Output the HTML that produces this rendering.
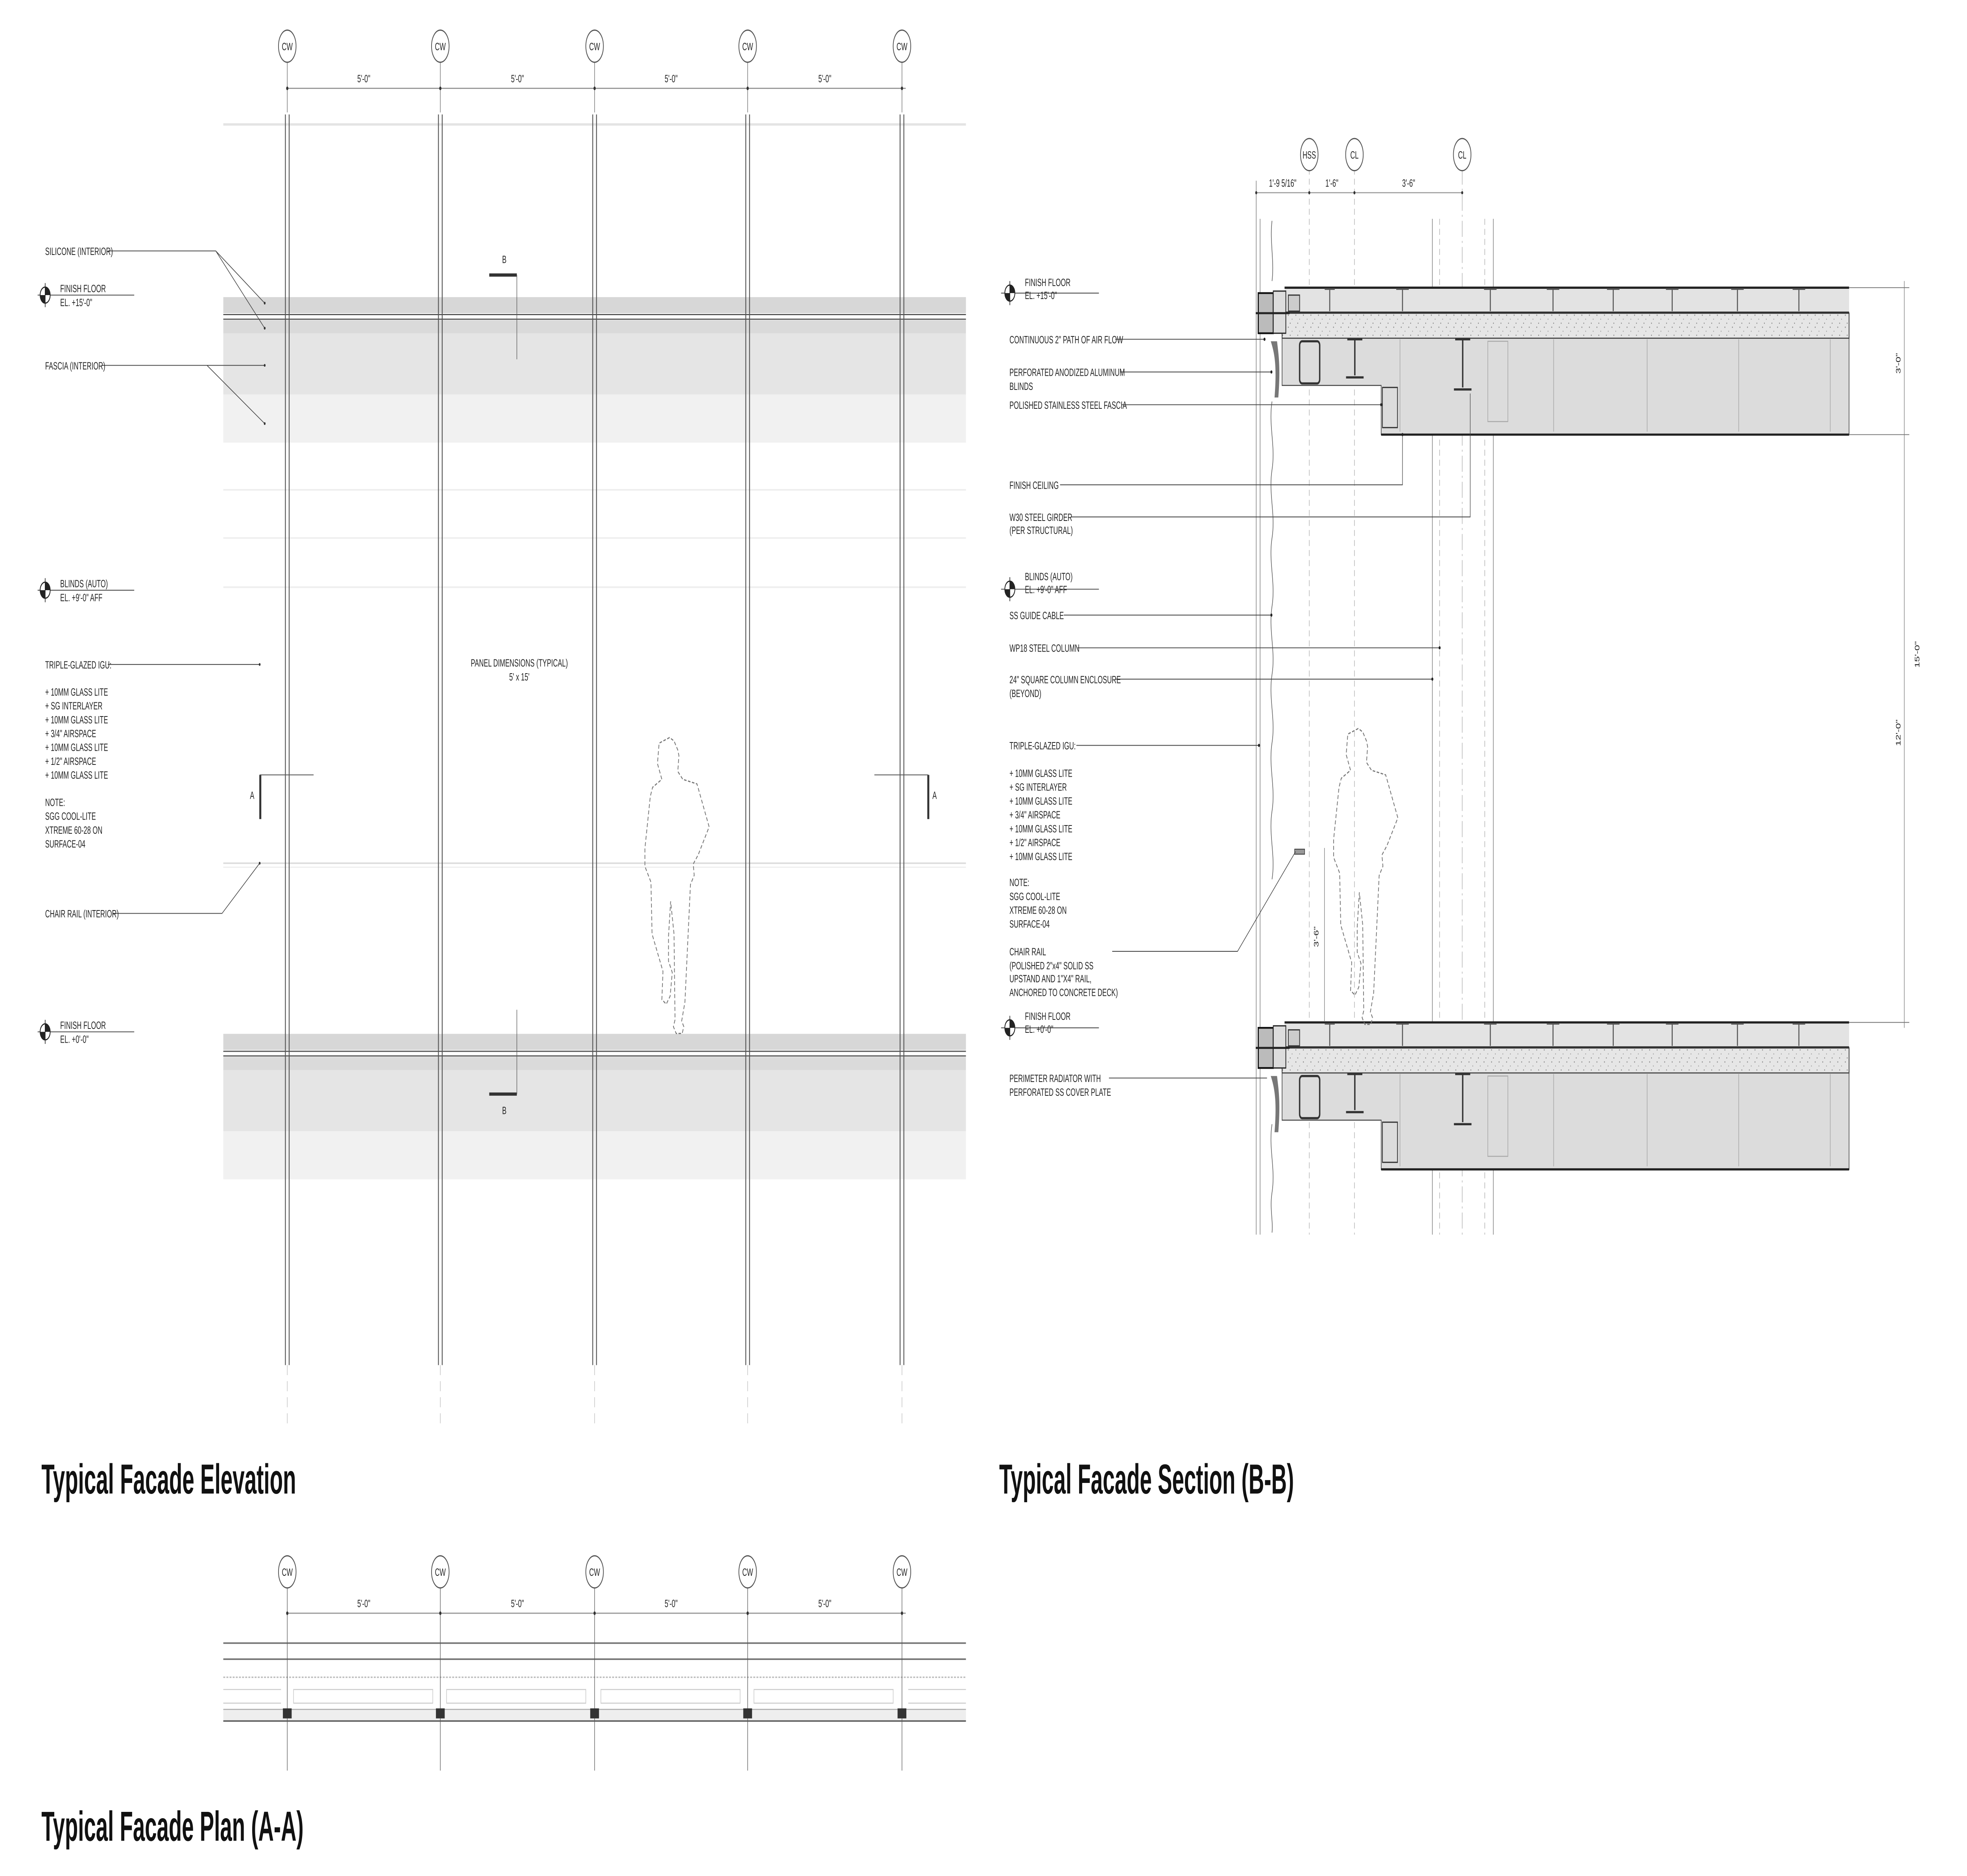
<!DOCTYPE html>
<html><head><meta charset="utf-8"><style>
html,body{margin:0;padding:0;background:#fff;width:100vw;height:100vh;overflow:hidden;}
svg{display:block;position:absolute;left:0;top:0;width:100vw;height:100vh;}
text{font-family:"Liberation Sans Narrow","Liberation Sans",sans-serif;fill:#222;}
.s{font-size:5.2px;}
.t{font-size:21px;font-weight:bold;fill:#111;}
</style></head><body>
<svg viewBox="0 0 1568 934.5" preserveAspectRatio="none" xmlns="http://www.w3.org/2000/svg">
<defs>
<g id="bub"><ellipse cx="0" cy="0" rx="7" ry="8" fill="#fff" stroke="#555" stroke-width="0.6"/></g>
<g id="ff"><circle cx="0" cy="0" r="4" fill="#fff" stroke="#222" stroke-width="0.6"/><path d="M0,-4 A4,4 0 0 1 4,0 L0,0Z M0,4 A4,4 0 0 1 -4,0 L0,0Z" fill="#222"/><line x1="0" y1="-6" x2="0" y2="6" stroke="#222" stroke-width="0.5"/></g>
<path id="person" d="M533.75,367.4 L525.4,370.2 L524.1,380.4 L527.6,388.2 L520.2,392.2 L518.4,396.7 L514.1,422.6 L514.1,431.6 L518.9,439.4 L519.8,465.3 L528.5,483.9 L527.6,497.9 L531.1,500.2 L534.2,496.2 L535.9,484.4 L532.9,478.8 L532.9,466.4 L534.6,449 L537.3,465.3 L538.1,508 L536.8,511.4 L539,514.8 L543.8,514.8 L545.1,511.4 L543.4,508.6 L546,499.1 L550.4,440.6 L553.4,436 L552.6,430.4 L556.5,425.9 L565.3,411.9 L555.6,390.5 L544.3,388.2 L540.3,384.3 L541.2,376.4 L540.3,373.6 L537.3,369.1 Z" fill="none" stroke="#777" stroke-width="0.6" stroke-dasharray="2,1.2"/>
<pattern id="conc" width="6" height="6" patternUnits="userSpaceOnUse"><rect width="6" height="6" fill="#e6e6e6"/><circle cx="1" cy="1" r="0.35" fill="#888"/><circle cx="4" cy="3" r="0.3" fill="#999"/><circle cx="2.5" cy="5" r="0.3" fill="#777"/></pattern>
<g id="slab">
<rect x="1024" y="143" width="450" height="13" fill="#e3e3e3"/>
<rect x="1022" y="156" width="452" height="12.5" fill="url(#conc)" stroke="#333" stroke-width="0.6"/>
<path d="M1022,168.5 L1474,168.5 L1474,216.5 L1101,216.5 L1101,192 L1022,192 Z" fill="#dcdcdc" stroke="#444" stroke-width="0.5"/>
<line x1="1024" y1="143.3" x2="1474" y2="143.3" stroke="#222" stroke-width="1.1"/>
<line x1="1101" y1="216.5" x2="1474" y2="216.5" stroke="#222" stroke-width="1.1"/>
<line x1="1024" y1="155.5" x2="1474" y2="155.5" stroke="#333" stroke-width="0.6"/>
<g stroke="#555" stroke-width="0.8" fill="none">
<path d="M1060,144 l0,11 M1056,144 l8,0 M1118,144 l0,11 M1113,144 l10,0 M1188,144 l0,11 M1183,144 l10,0 M1238,144 l0,11 M1233,144 l10,0 M1286,144 l0,11 M1281,144 l10,0 M1333,144 l0,11 M1328,144 l10,0 M1385,144 l0,11 M1380,144 l10,0 M1434,144 l0,11 M1429,144 l10,0"/>
</g>
<g stroke="#aaa" stroke-width="0.5"><line x1="1116" y1="169" x2="1116" y2="215"/><line x1="1238.5" y1="169" x2="1238.5" y2="215"/><line x1="1313" y1="169" x2="1313" y2="215"/><line x1="1386" y1="169" x2="1386" y2="215"/><line x1="1459" y1="169" x2="1459" y2="215"/><rect x="1186" y="170" width="16" height="40" fill="none"/></g>
<g fill="none" stroke="#333" stroke-width="1.1">
<rect x="1036" y="170" width="16" height="21" rx="2"/>
<path d="M1074,169 h12 M1080,169 v18 M1073,188 h14"/>
<path d="M1160,169 h12 M1166,169 v24 M1159,194 h14"/>
<rect x="1102" y="193" width="12" height="20" stroke-width="0.6"/>
</g>
<rect x="1003" y="146" width="12" height="20" fill="#bbb" stroke="#111" stroke-width="0.9"/>
<rect x="1015" y="145" width="10" height="21" fill="#ddd" stroke="#222" stroke-width="0.6"/>
<rect x="1027" y="147" width="9" height="8" fill="#ccc" stroke="#333" stroke-width="0.6"/>
<line x1="1001" y1="156" x2="1028" y2="156" stroke="#222" stroke-width="1"/>
<path d="M1013,170 C1016,176 1018,182 1016,198 L1019,198 C1021,182 1019,176 1018,170 Z" fill="#777"/>
</g>
</defs>

<!-- ========== ELEVATION ========== -->
<line x1="178" y1="62" x2="770" y2="62" stroke="#e4e4e4" stroke-width="1.2"/>
<rect x="178" y="148" width="592" height="8" fill="#d7d7d7"/>
<rect x="178" y="159.5" width="592" height="6.5" fill="#dadada"/>
<rect x="178" y="166" width="592" height="30.5" fill="#e5e5e5"/>
<rect x="178" y="196.5" width="592" height="24" fill="#f1f1f1"/>
<line x1="178" y1="156.7" x2="770" y2="156.7" stroke="#555" stroke-width="0.6"/>
<line x1="178" y1="159" x2="770" y2="159" stroke="#555" stroke-width="0.6"/>
<g stroke="#eee" stroke-width="0.8"><line x1="178" y1="244" x2="770" y2="244"/><line x1="178" y1="268" x2="770" y2="268"/><line x1="178" y1="292.5" x2="770" y2="292.5"/></g>
<line x1="178" y1="430" x2="770" y2="430" stroke="#ddd" stroke-width="0.8"/>
<line x1="178" y1="432" x2="770" y2="432" stroke="#eee" stroke-width="0.6"/>

<g transform="translate(0,367)">
<rect x="178" y="148" width="592" height="8" fill="#d7d7d7"/>
<rect x="178" y="159.5" width="592" height="6.5" fill="#dadada"/>
<rect x="178" y="166" width="592" height="30.5" fill="#e5e5e5"/>
<rect x="178" y="196.5" width="592" height="24" fill="#f1f1f1"/>
<line x1="178" y1="156.7" x2="770" y2="156.7" stroke="#555" stroke-width="0.6"/>
<line x1="178" y1="159" x2="770" y2="159" stroke="#555" stroke-width="0.6"/>
</g>

<line x1="229" y1="44" x2="722" y2="44" stroke="#999" stroke-width="0.6"/>
<g text-anchor="middle">
<text x="290" y="41" class="s">5'-0"</text><text x="412.5" y="41" class="s">5'-0"</text><text x="535" y="41" class="s">5'-0"</text><text x="657.5" y="41" class="s">5'-0"</text>
</g>
<g stroke="#666" stroke-width="0.4">
<line x1="229" y1="31" x2="229" y2="56"/><line x1="351" y1="31" x2="351" y2="56"/><line x1="474" y1="31" x2="474" y2="56"/><line x1="596" y1="31" x2="596" y2="56"/><line x1="719" y1="31" x2="719" y2="56"/>
</g>
<g stroke="#555" stroke-width="0.7">
<line x1="227.5" y1="57" x2="227.5" y2="680"/><line x1="230.5" y1="57" x2="230.5" y2="680"/>
<line x1="349.5" y1="57" x2="349.5" y2="680"/><line x1="352.5" y1="57" x2="352.5" y2="680"/>
<line x1="472.5" y1="57" x2="472.5" y2="680"/><line x1="475.5" y1="57" x2="475.5" y2="680"/>
<line x1="594.5" y1="57" x2="594.5" y2="680"/><line x1="597.5" y1="57" x2="597.5" y2="680"/>
<line x1="717.5" y1="57" x2="717.5" y2="680"/><line x1="720.5" y1="57" x2="720.5" y2="680"/>
</g>
<g stroke="#bbb" stroke-width="0.4" stroke-dasharray="5,3">
<line x1="229" y1="680" x2="229" y2="710"/><line x1="351" y1="680" x2="351" y2="710"/><line x1="474" y1="680" x2="474" y2="710"/><line x1="596" y1="680" x2="596" y2="710"/><line x1="719" y1="680" x2="719" y2="710"/>
</g>
<use href="#bub" x="229" y="23"/><use href="#bub" x="351" y="23"/><use href="#bub" x="474" y="23"/><use href="#bub" x="596" y="23"/><use href="#bub" x="719" y="23"/>
<g text-anchor="middle"><text class="s" x="229" y="25">CW</text><text class="s" x="351" y="25">CW</text><text class="s" x="474" y="25">CW</text><text class="s" x="596" y="25">CW</text><text class="s" x="719" y="25">CW</text></g>
<g fill="#333"><circle cx="229" cy="44" r="0.9"/><circle cx="351" cy="44" r="0.9"/><circle cx="474" cy="44" r="0.9"/><circle cx="596" cy="44" r="0.9"/><circle cx="719" cy="44" r="0.9"/></g>

<line x1="390" y1="137" x2="412" y2="137" stroke="#333" stroke-width="1.6"/>
<line x1="412" y1="137" x2="412" y2="179" stroke="#555" stroke-width="0.4"/>
<text class="s" x="402" y="131" text-anchor="middle">B</text>
<line x1="390" y1="545" x2="412" y2="545" stroke="#333" stroke-width="1.6"/>
<line x1="412" y1="503" x2="412" y2="545" stroke="#555" stroke-width="0.4"/>
<text class="s" x="402" y="555" text-anchor="middle">B</text>
<line x1="207.5" y1="386" x2="207.5" y2="408" stroke="#333" stroke-width="1.6"/>
<line x1="207" y1="386" x2="250" y2="386" stroke="#555" stroke-width="0.4"/>
<text class="s" x="201" y="398" text-anchor="middle">A</text>
<line x1="740" y1="386" x2="740" y2="408" stroke="#333" stroke-width="1.6"/>
<line x1="697" y1="386" x2="740" y2="386" stroke="#555" stroke-width="0.4"/>
<text class="s" x="745" y="398" text-anchor="middle">A</text>

<text class="s" x="414" y="332" text-anchor="middle">PANEL DIMENSIONS (TYPICAL)</text>
<text class="s" x="414" y="339" text-anchor="middle">5' x 15'</text>

<use href="#person"/>

<g stroke="#444" stroke-width="0.4" fill="none">
<path d="M86,125 L172,125 L211,151 M172,125 L211,163.5"/>
<path d="M81,182 L211,182 M165,182 L211,211"/>
<path d="M86,331 L207,331"/>
<path d="M90,455 L177,455 L207,430"/>
<line x1="30" y1="147" x2="107" y2="147"/>
<line x1="30" y1="294" x2="107" y2="294"/>
<line x1="30" y1="514" x2="107" y2="514"/>
</g>
<g fill="#333"><circle cx="211" cy="151" r="0.7"/><circle cx="211" cy="163.5" r="0.7"/><circle cx="211" cy="182" r="0.7"/><circle cx="211" cy="211" r="0.7"/><circle cx="207" cy="331" r="0.7"/><circle cx="207" cy="430" r="0.7"/></g>
<use href="#ff" x="36" y="147"/><use href="#ff" x="36" y="294"/><use href="#ff" x="36" y="514"/>
<text class="s" x="36" y="127">SILICONE (INTERIOR)</text>
<text class="s" x="48" y="145.5">FINISH FLOOR</text><text class="s" x="48" y="152.5">EL. +15'-0"</text>
<text class="s" x="36" y="184">FASCIA (INTERIOR)</text>
<text class="s" x="48" y="292.5">BLINDS (AUTO)</text><text class="s" x="48" y="299.5">EL. +9'-0" AFF</text>
<text class="s" x="36" y="333">TRIPLE-GLAZED IGU:</text>
<text class="s" x="36" y="346.5">+ 10MM GLASS LITE</text>
<text class="s" x="36" y="353.4">+ SG INTERLAYER</text>
<text class="s" x="36" y="360.3">+ 10MM GLASS LITE</text>
<text class="s" x="36" y="367.2">+ 3/4" AIRSPACE</text>
<text class="s" x="36" y="374.1">+ 10MM GLASS LITE</text>
<text class="s" x="36" y="381">+ 1/2" AIRSPACE</text>
<text class="s" x="36" y="387.9">+ 10MM GLASS LITE</text>
<text class="s" x="36" y="401.5">NOTE:</text>
<text class="s" x="36" y="408.4">SGG COOL-LITE</text>
<text class="s" x="36" y="415.3">XTREME 60-28 ON</text>
<text class="s" x="36" y="422.2">SURFACE-04</text>
<text class="s" x="36" y="457">CHAIR RAIL (INTERIOR)</text>
<text class="s" x="48" y="512.5">FINISH FLOOR</text><text class="s" x="48" y="519.5">EL. +0'-0"</text>

<text class="t" x="33" y="744" textLength="203" lengthAdjust="spacingAndGlyphs">Typical Facade Elevation</text>

<!-- ========== PLAN ========== -->
<line x1="229" y1="803.6" x2="722" y2="803.6" stroke="#999" stroke-width="0.6"/>
<g text-anchor="middle"><text class="s" x="290" y="800.5">5'-0"</text><text class="s" x="412.5" y="800.5">5'-0"</text><text class="s" x="535" y="800.5">5'-0"</text><text class="s" x="657.5" y="800.5">5'-0"</text></g>
<line x1="178" y1="818.5" x2="770" y2="818.5" stroke="#777" stroke-width="0.8"/>
<line x1="178" y1="826.5" x2="770" y2="826.5" stroke="#777" stroke-width="0.8"/>
<line x1="178" y1="835.5" x2="770" y2="835.5" stroke="#bbb" stroke-width="0.7" stroke-dasharray="1.5,1"/>
<rect x="178" y="851.5" width="592" height="6" fill="#eee"/>
<line x1="178" y1="851.5" x2="770" y2="851.5" stroke="#aaa" stroke-width="0.5"/>
<line x1="178" y1="857.3" x2="770" y2="857.3" stroke="#666" stroke-width="0.8"/>
<g fill="none" stroke="#ccc" stroke-width="0.5">
<rect x="234" y="841.6" width="111" height="6.8"/><rect x="356" y="841.6" width="111" height="6.8"/><rect x="479" y="841.6" width="111" height="6.8"/><rect x="601" y="841.6" width="111" height="6.8"/>
<line x1="178" y1="841.6" x2="224" y2="841.6"/><line x1="178" y1="848.4" x2="224" y2="848.4"/>
<line x1="724" y1="841.6" x2="770" y2="841.6"/><line x1="724" y1="848.4" x2="770" y2="848.4"/>
</g>
<g stroke="#555" stroke-width="0.4">
<line x1="229" y1="791" x2="229" y2="882"/><line x1="351" y1="791" x2="351" y2="882"/><line x1="474" y1="791" x2="474" y2="882"/><line x1="596" y1="791" x2="596" y2="882"/><line x1="719" y1="791" x2="719" y2="882"/>
</g>
<g fill="#333">
<rect x="225.5" y="851" width="7" height="5"/><rect x="347.5" y="851" width="7" height="5"/><rect x="470.5" y="851" width="7" height="5"/><rect x="592.5" y="851" width="7" height="5"/><rect x="715.5" y="851" width="7" height="5"/>
<circle cx="229" cy="803.6" r="0.9"/><circle cx="351" cy="803.6" r="0.9"/><circle cx="474" cy="803.6" r="0.9"/><circle cx="596" cy="803.6" r="0.9"/><circle cx="719" cy="803.6" r="0.9"/>
</g>
<use href="#bub" x="229" y="783"/><use href="#bub" x="351" y="783"/><use href="#bub" x="474" y="783"/><use href="#bub" x="596" y="783"/><use href="#bub" x="719" y="783"/>
<g text-anchor="middle"><text class="s" x="229" y="785">CW</text><text class="s" x="351" y="785">CW</text><text class="s" x="474" y="785">CW</text><text class="s" x="596" y="785">CW</text><text class="s" x="719" y="785">CW</text></g>

<text class="t" x="33" y="917" textLength="209" lengthAdjust="spacingAndGlyphs">Typical Facade Plan (A-A)</text>

<!-- ========== SECTION ========== -->
<g stroke="#888" stroke-width="0.5">
<line x1="1001.4" y1="90" x2="1001.4" y2="615"/>
<line x1="1004.5" y1="109" x2="1004.5" y2="615"/>
<line x1="1141.8" y1="109" x2="1141.8" y2="615"/>
<line x1="1190.4" y1="109" x2="1190.4" y2="615"/>
</g>
<g stroke="#aaa" stroke-width="0.4" stroke-dasharray="3,2">
<line x1="1043.7" y1="84" x2="1043.7" y2="615"/>
<line x1="1079.7" y1="84" x2="1079.7" y2="615"/>
<line x1="1147.6" y1="109" x2="1147.6" y2="615"/>
<line x1="1183.6" y1="109" x2="1183.6" y2="615"/>
<line x1="1165.6" y1="84" x2="1165.6" y2="615" stroke-dasharray="8,2,1,2"/>
</g>
<path d="M1014,110 c-2,10 2,20 0,30 M1014,200 c-3,12 3,22 0,34 c-3,12 3,22 0,34 c-3,12 3,22 0,34 c-3,12 3,22 0,34 c-3,12 3,22 0,34 c-3,12 3,22 0,34 c-3,12 3,22 0,34 M1014,560 c-3,12 3,22 0,34 c-2,8 1,14 0,20" fill="none" stroke="#666" stroke-width="0.5"/>
<use href="#slab"/>
<use href="#slab" y="366"/>
<g stroke="#777" stroke-width="0.4">
<line x1="1474" y1="143.3" x2="1522" y2="143.3"/>
<line x1="1474" y1="216.5" x2="1522" y2="216.5"/>
<line x1="1474" y1="509.3" x2="1522" y2="509.3"/>
<line x1="1518" y1="140" x2="1518" y2="512"/>
</g>
<text class="s" transform="translate(1515,181) rotate(-90)" text-anchor="middle">3'-0"</text>
<text class="s" transform="translate(1530,326) rotate(-90)" text-anchor="middle">15'-0"</text>
<text class="s" transform="translate(1515,365) rotate(-90)" text-anchor="middle">12'-0"</text>
<line x1="1001.4" y1="96" x2="1166" y2="96" stroke="#999" stroke-width="0.5"/>
<g fill="#333"><circle cx="1001.4" cy="96" r="0.8"/><circle cx="1043.7" cy="96" r="0.8"/><circle cx="1079.7" cy="96" r="0.8"/><circle cx="1165.6" cy="96" r="0.8"/></g>
<g text-anchor="middle"><text class="s" x="1022.5" y="93">1'-9 5/16"</text><text class="s" x="1061.7" y="93">1'-6"</text><text class="s" x="1122.9" y="93">3'-6"</text></g>
<use href="#bub" x="1043.7" y="77"/><use href="#bub" x="1079.7" y="77"/><use href="#bub" x="1165.6" y="77"/>
<g text-anchor="middle"><text class="s" x="1043.7" y="79">HSS</text><text class="s" x="1079.7" y="79">CL</text><text class="s" x="1165.6" y="79">CL</text></g>
<rect x="1032" y="423" width="8" height="2.5" fill="#999" stroke="#333" stroke-width="0.4"/>
<line x1="1055.8" y1="422.4" x2="1055.8" y2="509" stroke="#777" stroke-width="0.4"/>
<text class="s" transform="translate(1051,466.6) rotate(-90)" text-anchor="middle">3'-6"</text>
<use href="#person" transform="translate(549,-4.5)"/>

<g stroke="#444" stroke-width="0.4" fill="none">
<line x1="798" y1="146" x2="876" y2="146"/>
<line x1="798" y1="293.5" x2="876" y2="293.5"/>
<line x1="798" y1="512" x2="876" y2="512"/>
<line x1="889" y1="169" x2="1008" y2="169"/>
<line x1="893" y1="185.3" x2="1013.5" y2="185.3"/>
<line x1="894" y1="201.6" x2="1101" y2="201.6"/>
<path d="M845,241.5 L1118,241.5 L1118,216.5"/>
<path d="M854,257.5 L1172,257.5 L1172,196"/>
<line x1="848" y1="306.4" x2="1013.5" y2="306.4"/>
<line x1="859" y1="322.7" x2="1147.6" y2="322.7"/>
<line x1="889" y1="338.3" x2="1141.8" y2="338.3"/>
<line x1="858" y1="371.3" x2="1003.6" y2="371.3"/>
<path d="M886.6,473.9 L986.5,473.9 L1032.8,424.2"/>
<line x1="884" y1="537" x2="1010" y2="537"/>
</g>
<g fill="#222"><circle cx="1008" cy="169" r="0.8"/><circle cx="1013.5" cy="185.3" r="0.8"/><circle cx="1101" cy="201.6" r="0.8"/><circle cx="1118" cy="216.5" r="0.8"/><circle cx="1013.5" cy="306.4" r="0.8"/><circle cx="1147.6" cy="322.7" r="0.8"/><circle cx="1141.8" cy="338.3" r="0.8"/><circle cx="1003.6" cy="371.3" r="0.8"/></g>
<use href="#ff" x="805" y="146"/><use href="#ff" x="805" y="293.5"/><use href="#ff" x="805" y="512"/>
<text class="s" x="817" y="142.5">FINISH FLOOR</text><text class="s" x="817" y="149">EL. +15'-0"</text>
<text class="s" x="804.7" y="171">CONTINUOUS 2" PATH OF AIR FLOW</text>
<text class="s" x="804.7" y="187.3">PERFORATED ANODIZED ALUMINUM</text>
<text class="s" x="804.7" y="194.2">BLINDS</text>
<text class="s" x="804.7" y="203.6">POLISHED STAINLESS STEEL FASCIA</text>
<text class="s" x="804.7" y="243.5">FINISH CEILING</text>
<text class="s" x="804.7" y="259.5">W30 STEEL GIRDER</text>
<text class="s" x="804.7" y="266">(PER STRUCTURAL)</text>
<text class="s" x="817" y="289">BLINDS (AUTO)</text><text class="s" x="817" y="295.5">EL. +9'-0" AFF</text>
<text class="s" x="804.7" y="308.4">SS GUIDE CABLE</text>
<text class="s" x="804.7" y="324.7">WP18 STEEL COLUMN</text>
<text class="s" x="804.7" y="340.3">24" SQUARE COLUMN ENCLOSURE</text>
<text class="s" x="804.7" y="347.2">(BEYOND)</text>
<text class="s" x="804.7" y="373.3">TRIPLE-GLAZED IGU:</text>
<text class="s" x="804.7" y="387">+ 10MM GLASS LITE</text>
<text class="s" x="804.7" y="393.9">+ SG INTERLAYER</text>
<text class="s" x="804.7" y="400.8">+ 10MM GLASS LITE</text>
<text class="s" x="804.7" y="407.7">+ 3/4" AIRSPACE</text>
<text class="s" x="804.7" y="414.6">+ 10MM GLASS LITE</text>
<text class="s" x="804.7" y="421.5">+ 1/2" AIRSPACE</text>
<text class="s" x="804.7" y="428.4">+ 10MM GLASS LITE</text>
<text class="s" x="804.7" y="441.4">NOTE:</text>
<text class="s" x="804.7" y="448.3">SGG COOL-LITE</text>
<text class="s" x="804.7" y="455.2">XTREME 60-28 ON</text>
<text class="s" x="804.7" y="462.1">SURFACE-04</text>
<text class="s" x="804.7" y="475.9">CHAIR RAIL</text>
<text class="s" x="804.7" y="482.8">(POLISHED 2"x4" SOLID SS</text>
<text class="s" x="804.7" y="489.3">UPSTAND AND 1"X4" RAIL,</text>
<text class="s" x="804.7" y="496.2">ANCHORED TO CONCRETE DECK)</text>
<text class="s" x="817" y="508">FINISH FLOOR</text><text class="s" x="817" y="514.5">EL. +0'-0"</text>
<text class="s" x="804.7" y="539">PERIMETER RADIATOR WITH</text>
<text class="s" x="804.7" y="545.8">PERFORATED SS COVER PLATE</text>

<text class="t" x="796.5" y="744" textLength="235" lengthAdjust="spacingAndGlyphs">Typical Facade Section (B-B)</text>
</svg>
</body></html>
